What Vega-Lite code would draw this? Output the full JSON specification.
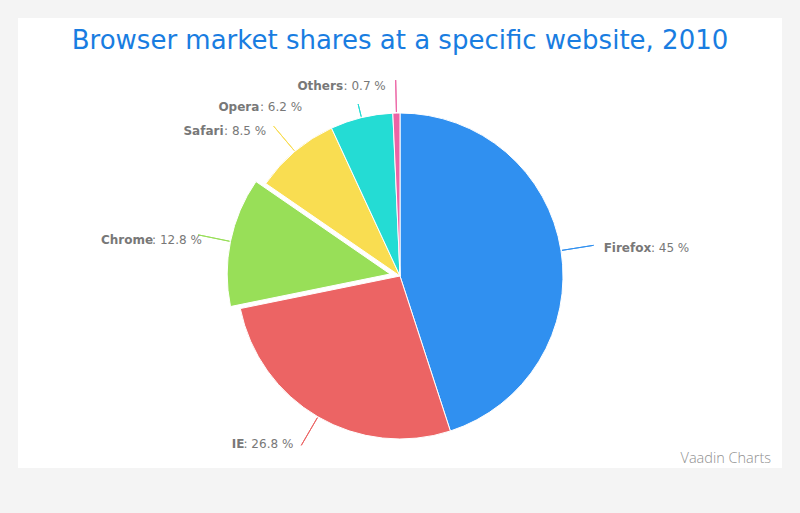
{
  "$schema": "https://vega.github.io/schema/vega-lite/v6.json",
  "width": 764,
  "height": 450,
  "autosize": {"type": "none"},
  "padding": {"left": 18, "top": 18, "right": 18, "bottom": 45},
  "background": "#f4f4f4",
  "title": {
    "text": "Browser market shares at a specific website, 2010",
    "font": "DejaVu Sans",
    "fontSize": 26,
    "fontWeight": "normal",
    "color": "#197de1",
    "anchor": "middle",
    "baseline": "alphabetic",
    "offset": -57
  },
  "data": {
    "values": [
      {"name": "Firefox", "value": 45},
      {"name": "IE", "value": 26.8},
      {"name": "Chrome", "value": 12.8},
      {"name": "Safari", "value": 8.5},
      {"name": "Opera", "value": 6.2},
      {"name": "Others", "value": 0.7}
    ]
  },
  "transform": [
    {"window": [{"op": "row_number", "as": "idx"}]},
    {"stack": "value", "groupby": [], "sort": [{"field": "idx", "order": "ascending"}], "as": ["s0", "s1"]},
    {"calculate": "(datum.s0 + datum.s1) / 2", "as": "mid"},
    {"calculate": "datum.mid > 50 ? 'left' : 'right'", "as": "side"},
    {"calculate": "': ' + datum.value + ' %'", "as": "suffix"}
  ],
  "layer": [
    {
      "transform": [{"filter": "datum.name != 'Chrome'"}],
      "mark": {"type": "arc", "radius": 163, "stroke": "white", "strokeWidth": 1, "yOffset": 33},
      "encoding": {
        "theta": {"field": "s0", "type": "quantitative", "scale": {"domain": [0, 100]}, "stack": null},
        "theta2": {"field": "s1"},
        "color": {
          "field": "name", "type": "nominal", "legend": null,
          "scale": {
            "domain": ["Firefox", "IE", "Chrome", "Safari", "Opera", "Others"],
            "range": ["#3090F0", "#EC6464", "#98DF58", "#F9DD51", "#24DCD4", "#EC64A5"]
          }
        },
        "tooltip": [{"field": "name", "type": "nominal"}, {"field": "value", "type": "quantitative", "title": "Series 1"}]
      }
    },
    {
      "transform": [{"filter": "datum.name == 'Chrome'"}],
      "mark": {"type": "arc", "radius": 163, "stroke": "white", "strokeWidth": 1, "xOffset": -9.8, "yOffset": 31},
      "encoding": {
        "theta": {"field": "s0", "type": "quantitative", "scale": {"domain": [0, 100]}, "stack": null},
        "theta2": {"field": "s1"},
        "color": {"field": "name", "type": "nominal", "legend": null},
        "tooltip": [{"field": "name", "type": "nominal"}, {"field": "value", "type": "quantitative", "title": "Series 1"}]
      }
    },
    {
      "mark": {
        "type": "arc", "filled": false, "strokeWidth": 1, "radius": 164,
        "radius2": {"expr": "datum.name == 'Opera' ? 177 : 196"},
        "xOffset": {"expr": "datum.name == 'Chrome' ? -9.8 : 0"},
        "yOffset": {"expr": "datum.name == 'Chrome' ? 31 : 33"}
      },
      "encoding": {
        "theta": {"field": "mid", "type": "quantitative", "scale": {"domain": [0, 100]}, "stack": null},
        "theta2": {"field": "mid"},
        "color": {"field": "name", "type": "nominal", "legend": null}
      }
    },
    {
      "mark": {
        "type": "text", "font": "DejaVu Sans", "fontSize": 12, "fontWeight": "bold", "color": "#787878",
        "baseline": "middle", "radius": 192, "yOffset": 33, "dy": 2,
        "thetaOffset": {"expr": "datum.name == 'Opera' ? -0.237 : 0"},
        "align": {"expr": "datum.side == 'left' ? 'right' : 'left'"},
        "dx": {"expr": "datum.side == 'left' ? -10 - length(datum.suffix) * 6.1 : 14"}
      },
      "encoding": {
        "theta": {"field": "mid", "type": "quantitative", "scale": {"domain": [0, 100]}, "stack": null},
        "text": {"field": "name", "type": "nominal"}
      }
    },
    {
      "mark": {
        "type": "text", "font": "DejaVu Sans", "fontSize": 12, "fontWeight": "normal", "color": "#787878",
        "baseline": "middle", "radius": 192, "yOffset": 33, "dy": 2,
        "thetaOffset": {"expr": "datum.name == 'Opera' ? -0.237 : 0"},
        "align": {"expr": "datum.side == 'left' ? 'right' : 'left'"},
        "dx": {"expr": "datum.side == 'left' ? -10 : 14 + length(datum.name) * 6.75"}
      },
      "encoding": {
        "theta": {"field": "mid", "type": "quantitative", "scale": {"domain": [0, 100]}, "stack": null},
        "text": {"field": "suffix", "type": "nominal"}
      }
    },
    {
      "transform": [{"filter": "datum.idx == 1"}],
      "mark": {
        "type": "text", "font": "Open Sans", "fontSize": 14.5, "fontWeight": 300, "color": "#909090",
        "align": "right", "baseline": "alphabetic", "dx": -11, "dy": -5
      },
      "encoding": {
        "x": {"value": "width"},
        "y": {"value": "height"},
        "text": {"value": "Vaadin Charts"}
      }
    }
  ],
  "config": {
    "view": {"fill": "white", "stroke": null}
  }
}
